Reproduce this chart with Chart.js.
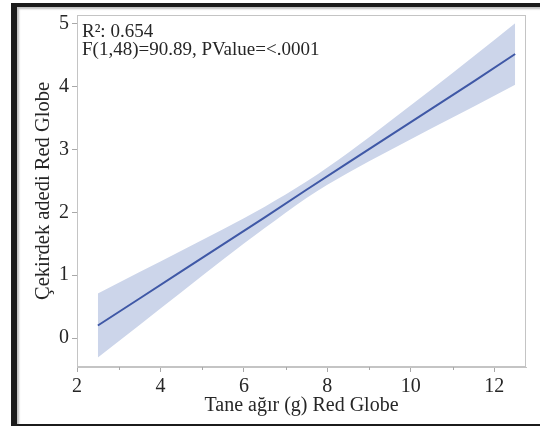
<!DOCTYPE html>
<html>
<head>
<meta charset="utf-8">
<script src="https://cdn.jsdelivr.net/npm/chart.js@4"></script>
<style>
html,body{margin:0;padding:0;background:#fff;}
#wrap{position:relative;width:540px;height:426px;overflow:hidden;}
canvas{position:absolute;left:0;top:0;}
#frame{position:absolute;left:11px;top:3px;width:540px;height:417px;border-top:4px solid #1b1b1b;border-left:6px solid #1b1b1b;border-bottom:6px solid #1b1b1b;pointer-events:none;box-shadow:inset 2px 2px 2px rgba(0,0,0,0.25);}
</style>
</head>
<body>
<div id="wrap">
<canvas id="c" width="540" height="426"></canvas>
<div id="frame"></div>
</div>
<script>
// Data
const xValues   = [2.5, 3.5, 4.5, 5.5, 6.5, 7.5, 8.5, 9.5, 10.5, 11.5, 12.5];
const fitValues = [0.20, 0.63, 1.06, 1.49, 1.92, 2.36, 2.79, 3.22, 3.65, 4.08, 4.52];
const lowerValues = [-0.31, 0.21, 0.73, 1.25, 1.75, 2.23, 2.63, 2.99, 3.34, 3.68, 4.03];
const upperValues = [0.71, 1.05, 1.39, 1.73, 2.09, 2.49, 2.95, 3.45, 3.96, 4.48, 5.01];
const xTickLabels = ['2', '4', '6', '8', '10', '12'];
const xMinorTicks = [3, 5, 7, 9, 11];
const yTickLabels = ['0', '1', '2', '3', '4', '5'];
const statLines = ['R\u00B2: 0.654', 'F(1,48)=90.89, PValue=<.0001'];
const xTitle = 'Tane a\u011F\u0131r (g) Red Globe';
const yTitle = '\u00C7ekirdek adedi Red Globe';

const pts = (ys) => xValues.map((x, i) => ({x: x, y: ys[i]}));
const FONT = "'Liberation Serif', 'Times New Roman', serif";
const TEXT = '#262626';
const AXIS = '#c4c4c4';

const framePlugin = {
  id: 'framePlugin',
  afterDraw(chart) {
    const {ctx, chartArea: a, scales} = chart;
    ctx.save();
    ctx.strokeStyle = AXIS;
    ctx.lineWidth = 1;
    ctx.strokeRect(Math.round(a.left) + 0.5, Math.round(a.top) + 0.5, Math.round(a.right - a.left) - 1, Math.round(a.bottom - a.top) - 1);
    ctx.strokeStyle = '#a8a8a8';
    xMinorTicks.forEach(v => {
      const px = Math.round(scales.x.getPixelForValue(v)) + 0.5;
      ctx.beginPath();
      ctx.moveTo(px, a.bottom);
      ctx.lineTo(px, a.bottom + 3);
      ctx.stroke();
    });
    ctx.fillStyle = TEXT;
    ctx.font = "19px " + FONT;
    ctx.textBaseline = 'alphabetic';
    ctx.textAlign = 'left';
    statLines.forEach((s, i) => ctx.fillText(s, a.left + 5, a.top + 22 + i * 18));
    ctx.restore();
  }
};

new Chart(document.getElementById('c'), {
  type: 'line',
  data: {
    datasets: [
      {label: 'lower', order: 2, data: pts(lowerValues), borderWidth: 0, pointRadius: 0, fill: false, cubicInterpolationMode: 'monotone', borderColor: 'rgba(0,0,0,0)'},
      {label: 'upper', order: 2, data: pts(upperValues), borderWidth: 0, pointRadius: 0, fill: '-1', cubicInterpolationMode: 'monotone', borderColor: 'rgba(0,0,0,0)', backgroundColor: '#ccd5ea'},
      {label: 'fit', order: 0, data: pts(fitValues), borderWidth: 2, pointRadius: 0, fill: false, borderColor: '#3f58a6', tension: 0}
    ]
  },
  options: {
    responsive: false,
    animation: false,
    devicePixelRatio: 1,
    layout: {padding: {left: 0, top: 13, right: 14, bottom: 0}},
    plugins: {legend: {display: false}, tooltip: {enabled: false}},
    scales: {
      x: {
        type: 'linear', min: 2, max: 12.76,
        afterFit(s) { s.height = 59; },
        grid: {display: true, drawOnChartArea: false, tickLength: 5, tickColor: (c) => (c.tick && c.tick.value % 2 === 0) ? '#a8a8a8' : 'rgba(0,0,0,0)'},
        border: {display: true, color: AXIS},
        ticks: {
          stepSize: 1, includeBounds: false, autoSkip: false, maxRotation: 0, padding: 3,
          color: TEXT, font: {family: FONT, size: 20},
          callback: (v) => { const i = xTickLabels.indexOf(String(v)); return i >= 0 ? xTickLabels[i] : ''; }
        },
        title: {display: true, text: xTitle, color: TEXT, font: {family: FONT, size: 20}, padding: {top: 0, bottom: 8}}
      },
      y: {
        type: 'linear', min: -0.46, max: 5.14,
        afterFit(s) { s.width = 77; },
        grid: {display: true, drawOnChartArea: false, tickLength: 5, tickColor: '#a8a8a8'},
        border: {display: true, color: AXIS},
        ticks: {
          stepSize: 1, includeBounds: false, padding: 3,
          color: TEXT, font: {family: FONT, size: 20},
          callback: (v) => { const i = yTickLabels.indexOf(String(v)); return i >= 0 ? yTickLabels[i] : ''; }
        },
        title: {display: true, text: yTitle, color: TEXT, font: {family: FONT, size: 20.5}, padding: {top: 31, bottom: 0}}
      }
    }
  },
  plugins: [framePlugin]
});
</script>
</body>
</html>
